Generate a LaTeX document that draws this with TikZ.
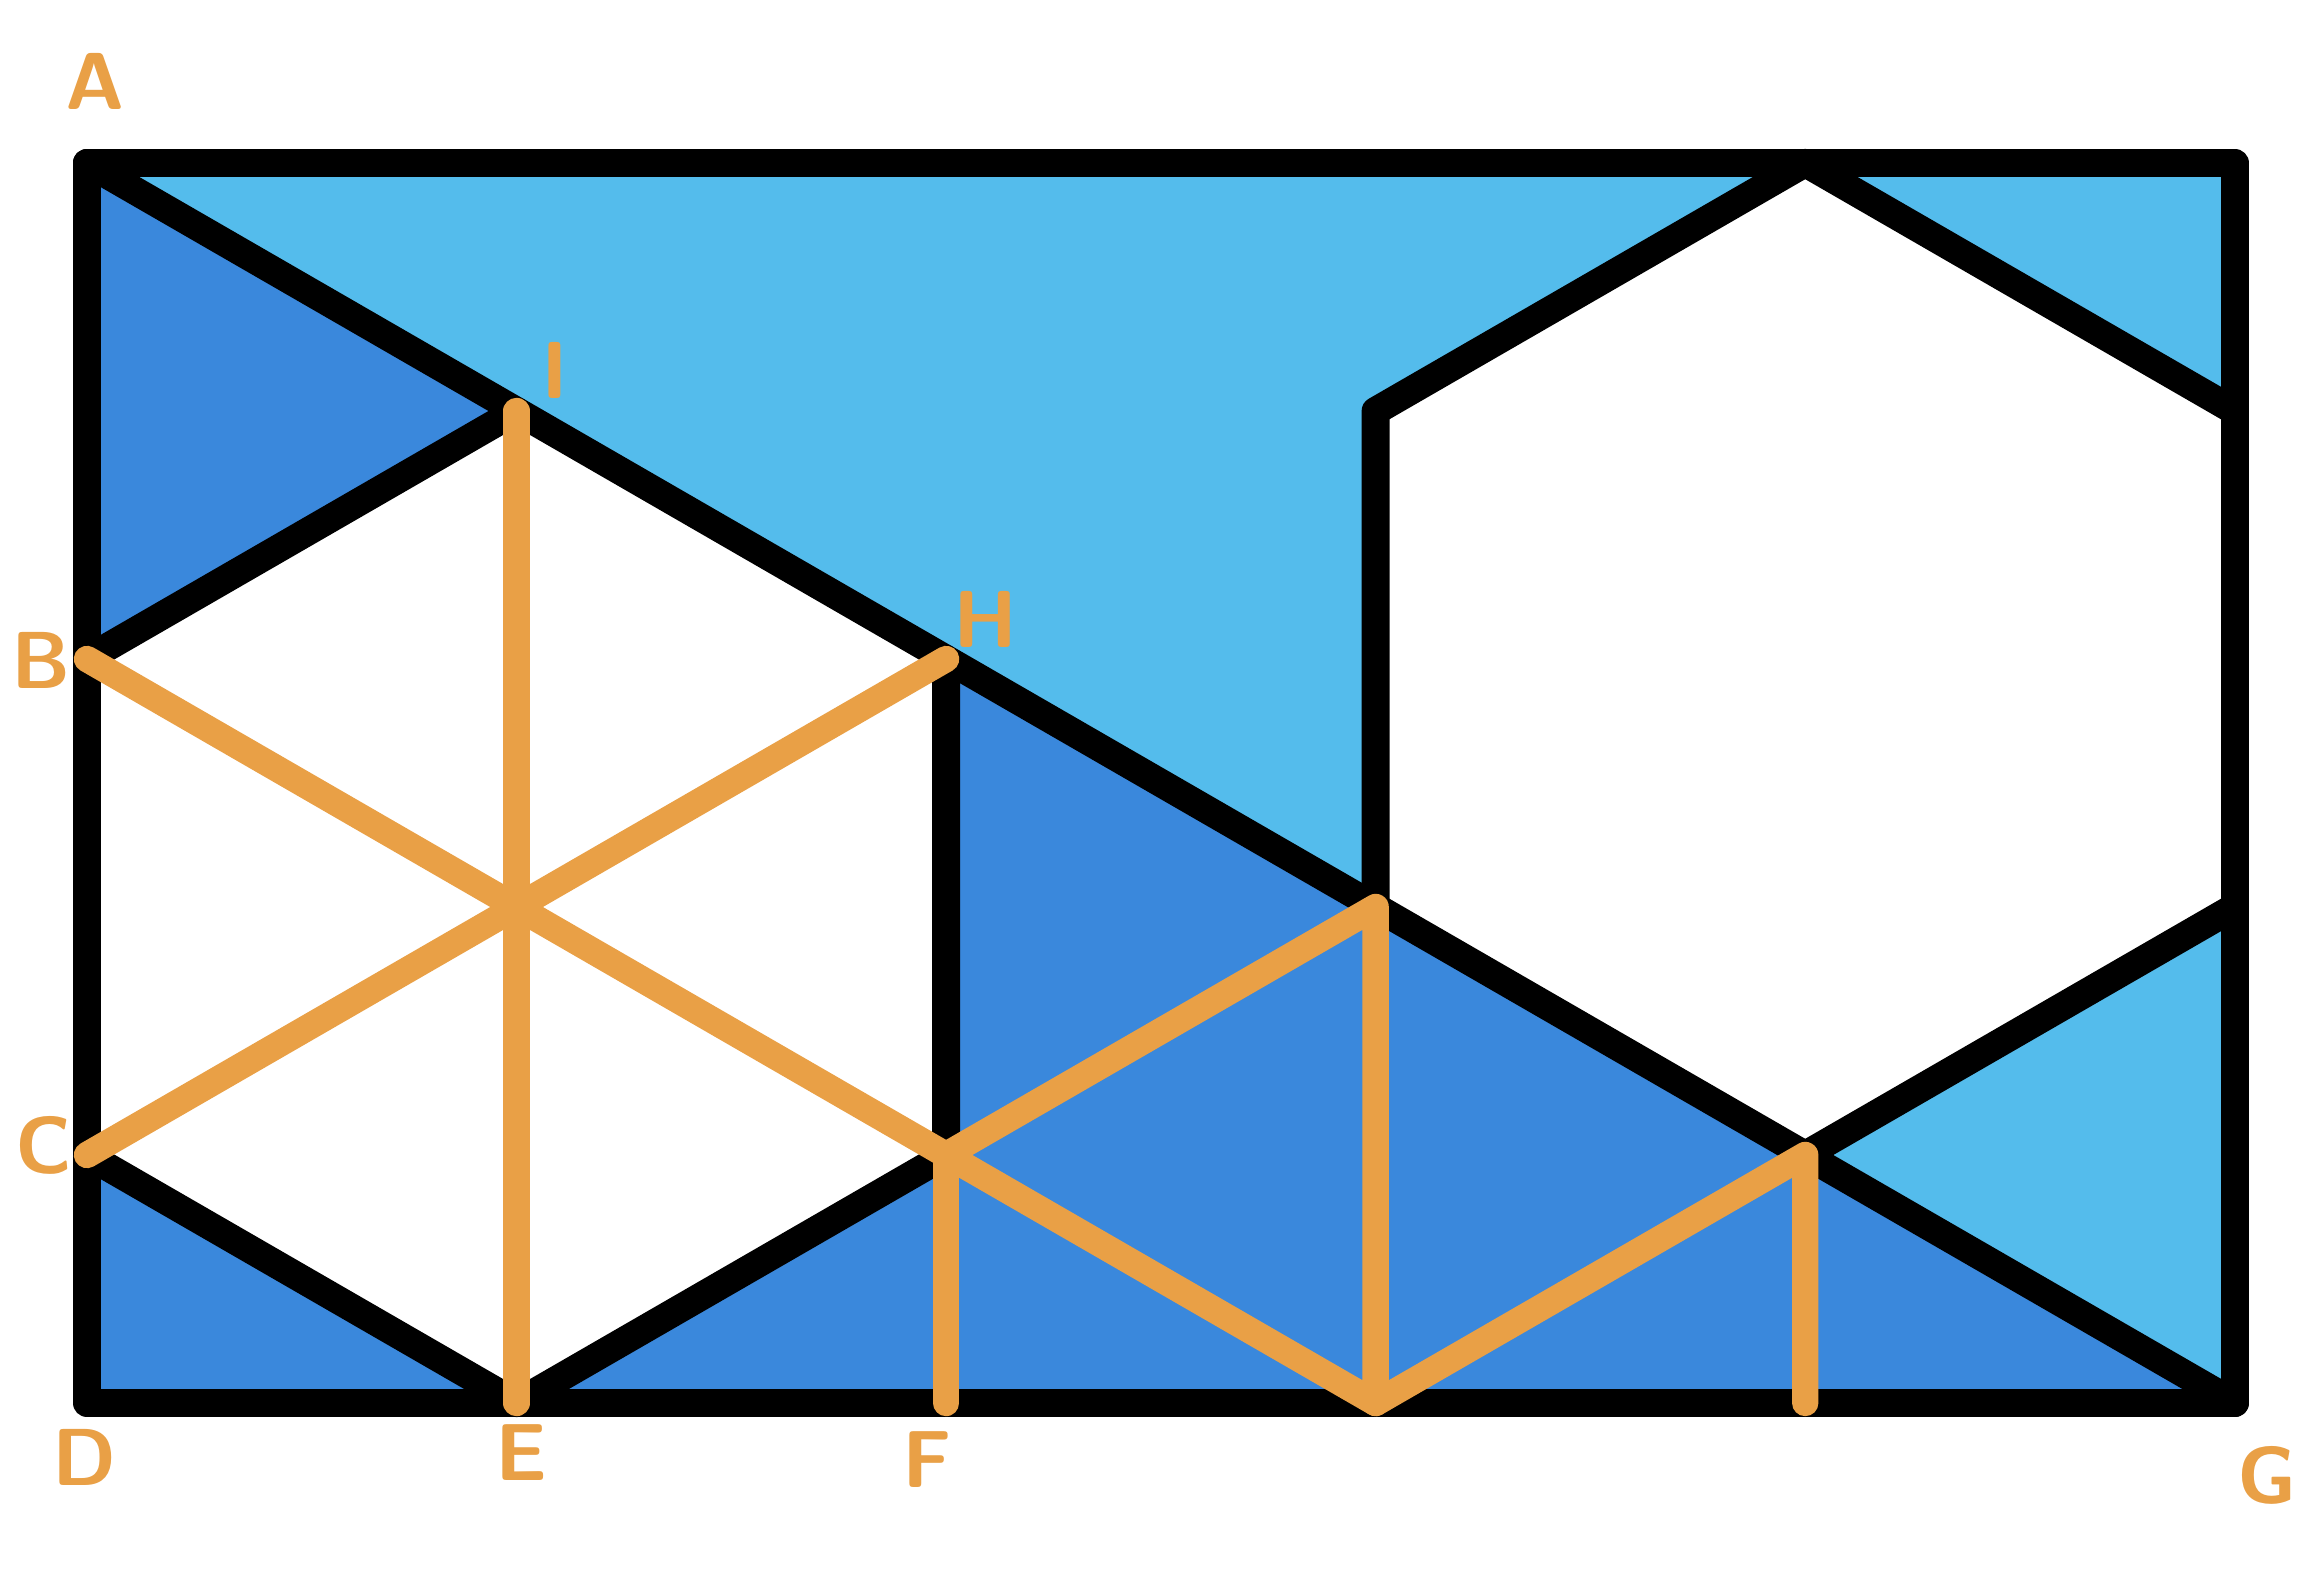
\documentclass[tikz,border=0pt]{standalone}
\definecolor{lightblue}{RGB}{84,188,236}
\definecolor{darkblue}{RGB}{58,136,220}
\definecolor{orng}{RGB}{233,160,70}
\tikzset{
  outline/.style={draw=black, line width=8pt, line cap=round, line join=round},
  orangeline/.style={draw=orng, line width=7.5pt, line cap=round, line join=round},
  lab/.style={text=orng, font=\sffamily\bfseries\fontsize{23}{26}\selectfont, inner sep=0pt}
}
\begin{document}
\begin{tikzpicture}
\useasboundingbox (0,0) rectangle (23.01,-15.91);
\fill[white] (0,0) rectangle (23.01,-15.91);
\begin{scope}[shift={(0.87,-14.03)}, x=4.96cm, y=4.96cm]
\def\s{1.7320508}
% rectangle corners
\coordinate (D) at (0,0);
\coordinate (A) at (0,2.5);
\coordinate (G) at ({2.5*\s},0);
\coordinate (TR) at ({2.5*\s},2.5);
% left hexagon
\coordinate (O) at ({0.5*\s},1);
\coordinate (I) at ({0.5*\s},2);
\coordinate (B) at (0,1.5);
\coordinate (C) at (0,0.5);
\coordinate (E) at ({0.5*\s},0);
\coordinate (H) at ({\s},1.5);
\coordinate (K) at ({\s},0.5);
\coordinate (F) at ({\s},0);
% right hexagon
\coordinate (T2) at ({2*\s},2.5);
\coordinate (UR) at ({2.5*\s},2);
\coordinate (LR) at ({2.5*\s},1);
\coordinate (P2) at ({2*\s},0.5);
\coordinate (LL) at ({1.5*\s},1);
\coordinate (UL) at ({1.5*\s},2);
\coordinate (M) at ({1.5*\s},0);
\coordinate (N) at ({2*\s},0);
% fills
\fill[lightblue] (A) -- (T2) -- (UL) -- (LL) -- cycle;
\fill[lightblue] (T2) -- (TR) -- (UR) -- cycle;
\fill[lightblue] (LR) -- (G) -- (P2) -- cycle;
\fill[darkblue] (A) -- (I) -- (B) -- cycle;
\fill[darkblue] (C) -- (D) -- (E) -- cycle;
\fill[darkblue] (H) -- (K) -- (E) -- (G) -- cycle;
% black lines
\draw[outline] (A) -- (TR) -- (G) -- (D) -- cycle;
\draw[outline] (A) -- (G);
\draw[outline] (B) -- (I);
\draw[outline] (H) -- (K) -- (E) -- (C);
\draw[outline] (UR) -- (T2) -- (UL) -- (LL);
\draw[outline] (LR) -- (P2);
% orange lines
\draw[orangeline] (I) -- (E);
\draw[orangeline] (B) -- (K);
\draw[orangeline] (C) -- (H);
\draw[orangeline] (K) -- (F);
\draw[orangeline] (K) -- (LL) -- (M) -- (K);
\draw[orangeline] (M) -- (P2) -- (N);
\end{scope}
% labels
\node[lab] (lA) at (0.95,-0.81) {A};
\node[lab] (lI) at (5.55,-3.70) {I};
\node[lab] (lB) at (0.41,-6.60) {B};
\node[lab] (lH) at (9.86,-6.19) {H};
\node[lab] (lC) at (0.44,-11.45) {C};
\node[lab] (lD) at (0.85,-14.57) {D};
\node[lab] (lE) at (5.21,-14.53) {E};
\node[lab] (lF) at (9.27,-14.60) {F};
\node[lab] (lG) at (22.67,-14.75) {G};
\end{tikzpicture}
\end{document}
